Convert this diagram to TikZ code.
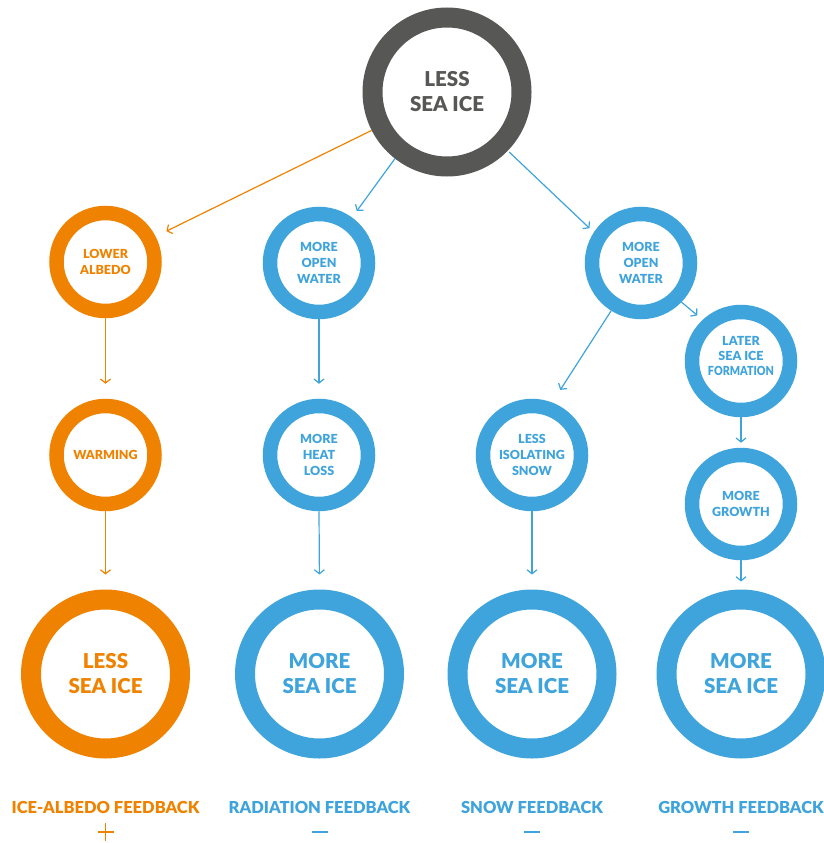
\documentclass[tikz,border=0pt]{standalone}
\usepackage{graphicx}
\usepackage{fontspec}
\setmainfont{Lato}[BoldFont={Lato Black}]
\usetikzlibrary{arrows.meta}
\definecolor{cor}{HTML}{EF8200}
\definecolor{cbl}{HTML}{3FA3DC}
\definecolor{cgr}{HTML}{575756}
\tikzset{
  bigring/.style={circle, draw=#1, text=#1, line width=20pt, minimum size=149pt, inner sep=0pt, outer sep=10pt, align=center, font=\fontsize{20.5}{25}\selectfont\bfseries},
  smallring/.style={circle, draw=#1, text=#1, line width=14.5pt, minimum size=98pt, inner sep=0pt, outer sep=7.25pt, align=center, font=\fontsize{12.5}{16}\selectfont\bfseries},
  smalltext/.style={text=#1, inner sep=0pt, align=center, font=\fontsize{12.5}{15}\selectfont\bfseries},
  arr/.style={draw=#1, line width=1.2pt, -{Straight Barb[length=4pt,width=10pt,line width=1.2pt]}},
  lbl/.style={text=#1, font=\fontsize{16.5}{18}\selectfont\bfseries, inner sep=0pt},
}
\begin{document}
\begin{tikzpicture}[x=1pt,y=-1pt]
\useasboundingbox (0,0) rectangle (824,843);
% top
\node[bigring=cgr] (top) at (447,92) {LESS\\SEA ICE};
% left column
\node[smallring=cor] (la) at (105.5,262) {LOWER\\ALBEDO};
\node[smallring=cor] (warm) at (105.5,455) {WARMING};
\node[bigring=cor] (lsi) at (105.5,674) {LESS\\SEA ICE};
% radiation column
\node[smallring=cbl] (ow1) at (319,263) {MORE\\OPEN\\WATER};
\node[smallring=cbl] (heat) at (319,455) {MORE\\HEAT\\LOSS};
\node[bigring=cbl] (msi1) at (319.5,674) {MORE\\SEA ICE};
% right
\node[smallring=cbl] (ow2) at (641,263) {MORE\\OPEN\\WATER};
\node[smallring=cbl] (snow) at (532,455) {LESS\\ISOLATING\\SNOW};
\node[bigring=cbl] (msi2) at (532,674) {MORE\\SEA ICE};
\node[smallring=cbl] (later) at (741,361) {};
\node[smalltext=cbl] (latert) at (741,356) {LATER\\SEA ICE\\\scalebox{0.86}[1]{FORMATION}};
\node[smallring=cbl] (grow) at (741,504) {MORE\\GROWTH};
\node[bigring=cbl] (msi3) at (741,674) {MORE\\SEA ICE};
% arrows
\draw[arr=cor, shorten >=12pt] (top.207) -- (la.27);
\draw[arr=cbl, shorten >=8pt] (top.232) -- (ow1.54);
\draw[arr=cbl, shorten <=2pt, shorten >=6pt] (top.316) -- (ow2.147);
\draw[arr=cor, shorten >=15pt] (la.south) -- (warm.north);
\draw[arr=cor, shorten >=15pt] (warm.south) -- (lsi.north);
\draw[arr=cbl, shorten >=15pt] (ow1.south) -- (heat.north);
\draw[arr=cbl, shorten >=15pt] (heat.south) -- (msi1.north);
\draw[arr=cbl, shorten >=15pt] (ow2.238) -- (snow.69);
\draw[arr=cbl, shorten >=7pt] (ow2.316) -- (later.133);
\draw[arr=cbl, shorten >=15pt] (snow.south) -- (msi2.north);
\draw[arr=cbl, shorten >=5pt] (later.south) -- (grow.north);
\draw[arr=cbl, shorten >=8pt] (grow.south) -- (msi3.north);
% labels
\node[lbl=cor] (l1) at (105.5,807) {ICE-ALBEDO FEEDBACK};
\node[lbl=cbl] (l2) at (319.5,807) {RADIATION FEEDBACK};
\node[lbl=cbl] (l3) at (532,807) {SNOW FEEDBACK};
\node[lbl=cbl] (l4) at (741,807) {GROWTH FEEDBACK};
% signs
\coordinate (p1) at (105.5,832);
\draw[cor, line width=1.6pt] ([xshift=-8pt]p1) -- ([xshift=8pt]p1) ([yshift=-9pt]p1) -- ([yshift=9pt]p1);
\coordinate (m2) at (319.5,832);
\coordinate (m3) at (532,832);
\coordinate (m4) at (741,832);
\draw[cbl, line width=2pt] ([xshift=-8pt]m2) -- ([xshift=8pt]m2);
\draw[cbl, line width=2pt] ([xshift=-8pt]m3) -- ([xshift=8pt]m3);
\draw[cbl, line width=2pt] ([xshift=-8pt]m4) -- ([xshift=8pt]m4);
\end{tikzpicture}
\end{document}
